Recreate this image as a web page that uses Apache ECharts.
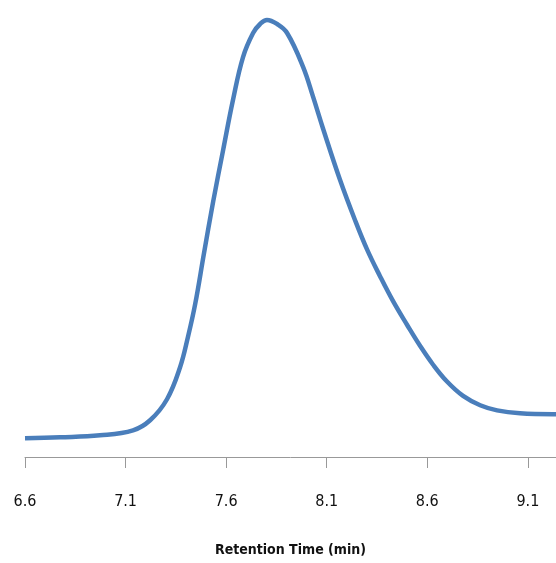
<!DOCTYPE html>
<html>
<head>
<meta charset="utf-8">
<script src="https://cdn.jsdelivr.net/npm/echarts@6/dist/echarts.min.js"></script>
<style>
  html, body { margin: 0; padding: 0; background: #fff; }
  #chart { width: 556px; height: 563px; }
</style>
</head>
<body>
<div id="chart"></div>
<script>
// retention time (min) and detector signal (relative units)
const retentionTime = [6.600, 6.774, 6.973, 7.137, 7.222, 7.306, 7.371, 7.411, 7.446, 7.490, 7.535, 7.585,
  7.634, 7.684, 7.734, 7.769, 7.803, 7.853, 7.903, 7.982, 8.032, 8.082, 8.166, 8.241, 8.301, 8.365,
  8.430, 8.500, 8.564, 8.629, 8.698, 8.778, 8.863, 8.947, 9.061, 9.226, 9.240]
const signal = [4.09, 4.31, 4.75, 5.84, 8.04, 12.64, 19.64, 26.43, 33.44, 44.61, 55.77, 67.16,
  78.11, 87.52, 92.78, 94.75, 95.62, 94.75, 92.78, 85.42, 78.85, 71.84, 60.67, 51.81, 45.37, 39.57,
  34.09, 28.88, 24.33, 20.19, 16.51, 13.36, 11.32, 10.20, 9.55, 9.35, 9.35]
const tickValues = [6.6, 7.1, 7.6, 8.1, 8.6, 9.1]

const myChart = echarts.init(document.getElementById('chart'))
const font = "'Liberation Sans Narrow', 'DejaVu Sans Condensed', sans-serif"

const option = {
  animation: false,
  grid: {
    left: 25,
    right: 0,
    top: 0,
    bottom: 106
  },
  xAxis: {
    type: 'value',
    min: 6.6,
    max: 9.24,
    name: 'Retention Time (min)',
    nameLocation: 'middle',
    nameGap: 86,
    nameTextStyle: {
      fontFamily: font,
      fontSize: 14,
      fontWeight: 'bold',
      color: '#111'
    },
    axisLine: {
      show: true,
      lineStyle: { color: '#999', width: 1 }
    },
    axisTick: {
      show: true,
      length: 11,
      customValues: tickValues,
      lineStyle: { color: '#999' }
    },
    axisLabel: {
      customValues: tickValues,
      margin: 37,
      fontFamily: font,
      fontSize: 16,
      color: '#111',
      formatter: v => v.toFixed(1)
    },
    splitLine: { show: false }
  },
  yAxis: {
    type: 'value',
    min: 0,
    max: 100,
    show: false,
    splitLine: { show: false }
  },
  series: [
    {
      type: 'line',
      data: retentionTime.map((t, i) => [t, signal[i]]),
      smooth: 0.4,
      symbol: 'none',
      lineStyle: { color: '#4a7ebb', width: 4.5 }
    }
  ]
}
myChart.setOption(option)
</script>
</body>
</html>
